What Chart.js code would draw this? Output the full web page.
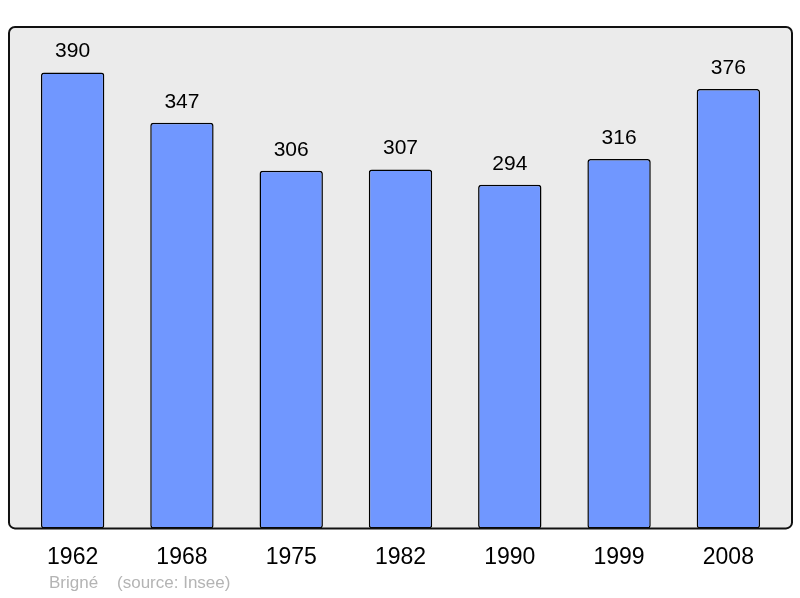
<!DOCTYPE html>
<html>
<head>
<meta charset="utf-8">
<script src="https://cdn.jsdelivr.net/npm/chart.js@4"></script>
<style>
  html, body { margin: 0; padding: 0; background: #fff; }
  #wrap { width: 800px; height: 598px; }
</style>
</head>
<body>
<div id="wrap"><canvas id="chart"></canvas></div>
<script>
// Population data
const years = ['1962', '1968', '1975', '1982', '1990', '1999', '2008'];
const population = [390, 347, 306, 307, 294, 316, 376];
const footerText = 'Brigné    (source: Insee)';

// Gray frame behind the bars
const framePlugin = {
  id: 'frame',
  beforeDatasetsDraw(chart) {
    const { ctx, chartArea } = chart;
    const x = chartArea.left - 9, y = chartArea.top;
    const w = chartArea.right - chartArea.left + 18, h = chartArea.bottom - chartArea.top;
    ctx.save();
    ctx.beginPath();
    ctx.roundRect(x, y, w, h, 6);
    ctx.fillStyle = '#ebebeb';
    ctx.fill();
    ctx.restore();
  },
  afterDatasetsDraw(chart) {
    const { ctx, chartArea } = chart;
    const x = chartArea.left - 9, y = chartArea.top;
    const w = chartArea.right - chartArea.left + 18, h = chartArea.bottom - chartArea.top;
    ctx.save();
    ctx.beginPath();
    ctx.roundRect(x, y, w, h, 6);
    ctx.lineWidth = 2;
    ctx.strokeStyle = '#111';
    ctx.stroke();

    // value labels above bars
    const meta = chart.getDatasetMeta(0);
    ctx.fillStyle = '#000';
    ctx.font = '21px "Liberation Sans", Arial, sans-serif';
    ctx.textAlign = 'center';
    ctx.textBaseline = 'middle';
    meta.data.forEach((bar, i) => {
      ctx.fillText(String(population[i]), bar.x, bar.y - 21);
    });

    // footer
    ctx.fillStyle = '#b4b4b4';
    ctx.font = '17px "Liberation Sans", Arial, sans-serif';
    ctx.textAlign = 'left';
    ctx.fillText(footerText, 49, 583);
    ctx.restore();
  }
};

new Chart(document.getElementById('chart'), {
  type: 'bar',
  data: {
    labels: years,
    datasets: [{
      data: population,
      backgroundColor: '#7097ff',
      borderColor: '#000',
      borderWidth: 1.5,
      borderRadius: 3,
      borderSkipped: false,
      barPercentage: 0.58,
      categoryPercentage: 1
    }]
  },
  options: {
    responsive: true,
    maintainAspectRatio: false,
    animation: false,
    layout: { padding: { left: 18, right: 17, top: 27, bottom: 20 } },
    plugins: {
      legend: { display: false },
      tooltip: { enabled: false }
    },
    scales: {
      y: { display: false, min: 0, max: 429 },
      x: {
        grid: { display: false },
        border: { display: false },
        ticks: {
          color: '#000',
          padding: 7,
          font: { size: 23, family: '"Liberation Sans", Arial, sans-serif' }
        }
      }
    }
  },
  plugins: [framePlugin]
});
</script>
</body>
</html>
